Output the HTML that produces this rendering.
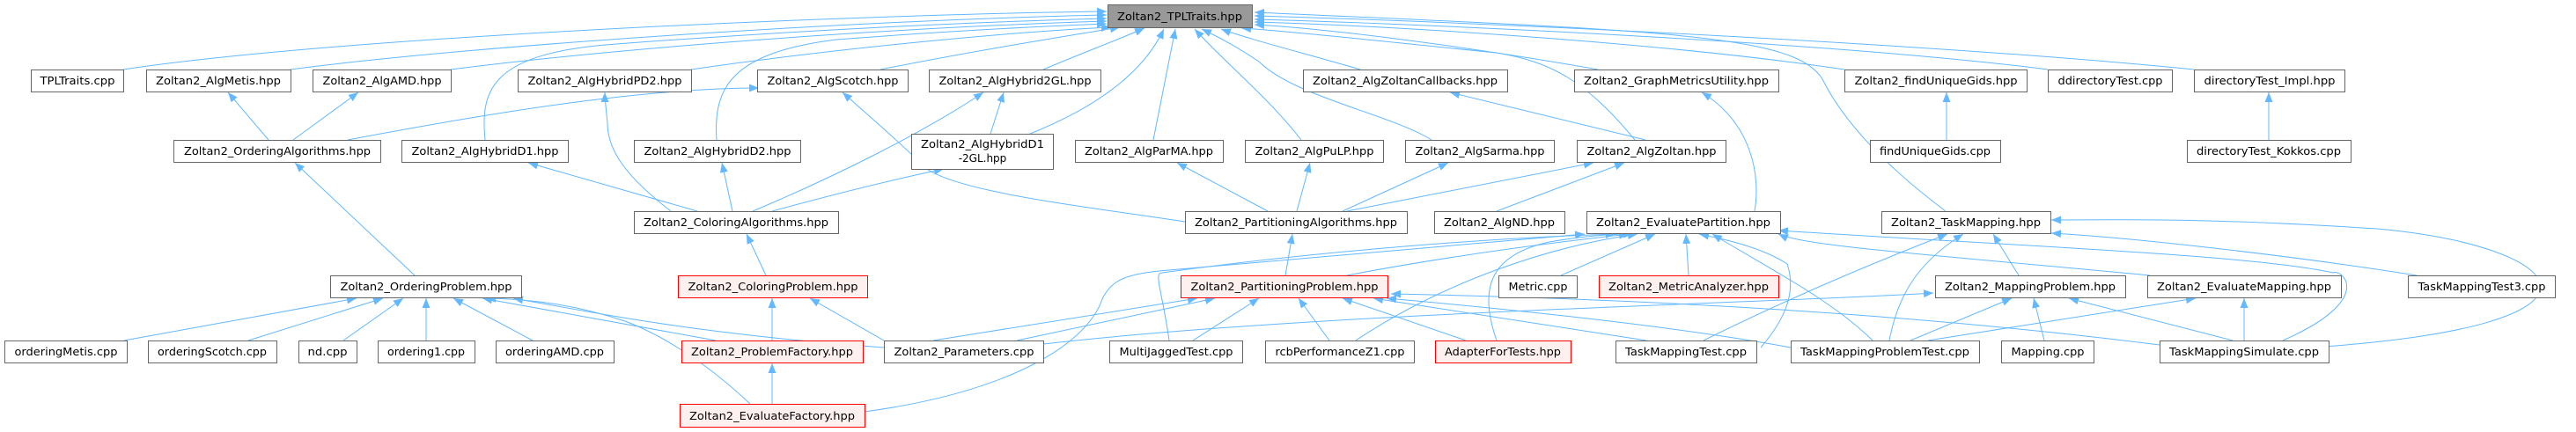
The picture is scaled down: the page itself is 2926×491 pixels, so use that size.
<!DOCTYPE html>
<html><head><meta charset="utf-8"><style>
html,body{margin:0;padding:0;background:#fff;width:2926px;height:491px;overflow:hidden}
svg{display:block}
text{font-family:"DejaVu Sans","Liberation Sans",sans-serif;font-size:12px;fill:#000;text-anchor:middle}
.n rect{fill:#fff;stroke:#666;stroke-width:1}
.r rect{fill:#fff0f0;stroke:#f00;stroke-width:1}
.g rect{fill:#999;stroke:#666;stroke-width:1}
path.e{fill:none;stroke:#63b8ff;stroke-width:1}
</style></head><body>
<svg width="2926" height="491" viewBox="0 0 2926 491" xmlns="http://www.w3.org/2000/svg">
<defs><marker id="a" markerWidth="11" markerHeight="9" refX="11" refY="4.5" orient="auto" markerUnits="userSpaceOnUse"><path d="M0,0 L11,4.5 L0,9 z" fill="#63b8ff"/></marker></defs>
<g marker-end="url(#a)">
<path class="e" d="M140,79 C400,40 1000,16 1257,13"/>
<path class="e" d="M330,79 C550,50 1000,22 1257,17"/>
<path class="e" d="M551,159 C545,100 560,60 700,50 C900,35 1100,25 1257,21"/>
<path class="e" d="M512,79 C700,55 1000,32 1257,24"/>
<path class="e" d="M814,159 C810,100 830,60 950,45 C1080,35 1180,30 1257,27"/>
<path class="e" d="M785,79 C950,55 1150,36 1262,31"/>
<path class="e" d="M1000,79 C1120,55 1230,38 1272,31"/>
<path class="e" d="M1185,79 C1230,60 1270,45 1300,32"/>
<path class="e" d="M1170,152 C1250,120 1300,80 1322,33"/>
<path class="e" d="M1310,159 C1320,110 1328,70 1335,33"/>
<path class="e" d="M1478,159 C1440,110 1390,70 1357,33"/>
<path class="e" d="M1626,159 C1580,130 1470,110 1430,70 C1400,50 1380,40 1365,33"/>
<path class="e" d="M1545,79 C1480,60 1420,45 1387,33"/>
<path class="e" d="M1857,159 C1800,90 1760,70 1700,60 C1550,45 1460,35 1410,32"/>
<path class="e" d="M1815,79 C1650,50 1500,32 1425,28"/>
<path class="e" d="M2095,79 C1900,50 1600,30 1425,25"/>
<path class="e" d="M2326,79 C2100,50 1650,28 1425,22"/>
<path class="e" d="M2492,79 C2200,50 1700,26 1425,18"/>
<path class="e" d="M2210,240 C2130,180 2090,130 2070,90 C2040,40 1900,35 1425,14"/>
<path class="e" d="M305,159 L259,105"/>
<path class="e" d="M333,159 L407,105"/>
<path class="e" d="M395,159 C600,120 750,100 862,100"/>
<path class="e" d="M2211,159 L2211,105"/>
<path class="e" d="M2577,159 L2577,105"/>
<path class="e" d="M1125,152 L1140,105"/>
<path class="e" d="M1993,240 C2000,200 1990,140 1933,105"/>
<path class="e" d="M1869,159 L1647,105"/>
<path class="e" d="M792,240 L600,185"/>
<path class="e" d="M762,240 C710,200 690,170 690,140 C688,120 687,112 687,105"/>
<path class="e" d="M832,240 L820,185"/>
<path class="e" d="M855,240 C950,200 1050,150 1117,105"/>
<path class="e" d="M877,240 C950,220 1010,205 1072,192"/>
<path class="e" d="M1346,252 C1200,230 1060,215 1040,180 C1020,160 985,130 957,105"/>
<path class="e" d="M1440,240 L1337,185"/>
<path class="e" d="M1473,240 L1488,185"/>
<path class="e" d="M1525,240 L1645,185"/>
<path class="e" d="M1530,240 L1810,185"/>
<path class="e" d="M1700,240 L1845,185"/>
<path class="e" d="M471,313 L335,185"/>
<path class="e" d="M141,387 L405,339"/>
<path class="e" d="M282,387 L435,339"/>
<path class="e" d="M390,387 L458,339"/>
<path class="e" d="M484,387 L484,339"/>
<path class="e" d="M605,387 L515,339"/>
<path class="e" d="M870,313 L848,266"/>
<path class="e" d="M877,387 L877,339"/>
<path class="e" d="M813,387 L548,339"/>
<path class="e" d="M877,459 L877,413"/>
<path class="e" d="M852,459 C800,410 750,380 710,365 C650,345 600,340 552,339"/>
<path class="e" d="M982,468 C1150,445 1235,390 1252,340 C1262,318 1280,312 1316,308 L1800,266"/>
<path class="e" d="M1460,313 L1468,266"/>
<path class="e" d="M1530,313 C1650,290 1770,275 1850,266"/>
<path class="e" d="M1004,395 C800,380 700,360 583,339"/>
<path class="e" d="M1004,387 L920,339"/>
<path class="e" d="M1155,387 L1380,339"/>
<path class="e" d="M1060,387 L1360,339"/>
<path class="e" d="M1185,391 C1500,355 2000,345 2196,333"/>
<path class="e" d="M1355,387 L1430,339"/>
<path class="e" d="M1328,387 C1320,330 1310,310 1320,310 C1500,285 1700,270 1835,266"/>
<path class="e" d="M1510,387 L1475,339"/>
<path class="e" d="M1540,387 C1640,320 1760,280 1860,266"/>
<path class="e" d="M1665,387 L1525,339"/>
<path class="e" d="M1700,387 C1680,330 1690,290 1760,275 C1800,268 1830,266 1855,266"/>
<path class="e" d="M1870,387 L1560,339"/>
<path class="e" d="M1935,387 C2050,330 2150,290 2212,266"/>
<path class="e" d="M1773,313 L1880,266"/>
<path class="e" d="M1918,313 L1915,266"/>
<path class="e" d="M2442,313 C2200,290 2050,280 2020,266"/>
<path class="e" d="M2127,387 C2080,340 2000,300 1945,266"/>
<path class="e" d="M2000,395 C2030,360 2040,330 2030,300 C2000,280 1950,270 1930,266"/>
<path class="e" d="M2293,313 L2264,266"/>
<path class="e" d="M2745,313 C2600,290 2420,270 2330,265"/>
<path class="e" d="M2146,387 C2155,340 2175,300 2230,266"/>
<path class="e" d="M2625,395 C3000,370 2920,280 2700,260 C2500,247 2400,250 2330,250"/>
<path class="e" d="M2170,387 L2285,339"/>
<path class="e" d="M2190,387 L2494,339"/>
<path class="e" d="M2322,387 L2310,339"/>
<path class="e" d="M2536,387 L2350,339"/>
<path class="e" d="M2549,387 L2549,339"/>
<path class="e" d="M2593,387 C2700,340 2660,305 2650,310 C2560,290 2300,280 2020,262"/>
<path class="e" d="M2453,392 C2200,360 1900,340 1580,334"/>
<path class="e" d="M2034,395 C1900,370 1700,350 1575,339"/>
</g>
<g class="g"><rect x="1258.5" y="5.5" width="164" height="26"/><text x="1340" y="23" textLength="142" lengthAdjust="spacingAndGlyphs">Zoltan2_TPLTraits.hpp</text></g>
<g class="n"><rect x="35.5" y="79.5" width="105" height="25"/><text x="88" y="96" textLength="85" lengthAdjust="spacingAndGlyphs">TPLTraits.cpp</text></g>
<g class="n"><rect x="166.5" y="79.5" width="164" height="25"/><text x="248" y="96" textLength="142" lengthAdjust="spacingAndGlyphs">Zoltan2_AlgMetis.hpp</text></g>
<g class="n"><rect x="355.5" y="79.5" width="157" height="25"/><text x="434" y="96" textLength="135" lengthAdjust="spacingAndGlyphs">Zoltan2_AlgAMD.hpp</text></g>
<g class="n"><rect x="588.5" y="79.5" width="197" height="25"/><text x="687" y="96" textLength="175" lengthAdjust="spacingAndGlyphs">Zoltan2_AlgHybridPD2.hpp</text></g>
<g class="n"><rect x="860.5" y="79.5" width="171" height="25"/><text x="946" y="96" textLength="149" lengthAdjust="spacingAndGlyphs">Zoltan2_AlgScotch.hpp</text></g>
<g class="n"><rect x="1055.5" y="79.5" width="195" height="25"/><text x="1153" y="96" textLength="173" lengthAdjust="spacingAndGlyphs">Zoltan2_AlgHybrid2GL.hpp</text></g>
<g class="n"><rect x="1480.5" y="79.5" width="232" height="25"/><text x="1596" y="96" textLength="210" lengthAdjust="spacingAndGlyphs">Zoltan2_AlgZoltanCallbacks.hpp</text></g>
<g class="n"><rect x="1788.5" y="79.5" width="232" height="25"/><text x="1904" y="96" textLength="210" lengthAdjust="spacingAndGlyphs">Zoltan2_GraphMetricsUtility.hpp</text></g>
<g class="n"><rect x="2095.5" y="79.5" width="207" height="25"/><text x="2199" y="96" textLength="185" lengthAdjust="spacingAndGlyphs">Zoltan2_findUniqueGids.hpp</text></g>
<g class="n"><rect x="2326.5" y="79.5" width="141" height="25"/><text x="2397" y="96" textLength="119" lengthAdjust="spacingAndGlyphs">ddirectoryTest.cpp</text></g>
<g class="n"><rect x="2492.5" y="79.5" width="171" height="25"/><text x="2578" y="96" textLength="149" lengthAdjust="spacingAndGlyphs">directoryTest_Impl.hpp</text></g>
<g class="n"><rect x="197.5" y="159.5" width="235" height="25"/><text x="315" y="176" textLength="212" lengthAdjust="spacingAndGlyphs">Zoltan2_OrderingAlgorithms.hpp</text></g>
<g class="n"><rect x="456.5" y="159.5" width="189" height="25"/><text x="551" y="176" textLength="167" lengthAdjust="spacingAndGlyphs">Zoltan2_AlgHybridD1.hpp</text></g>
<g class="n"><rect x="720.5" y="159.5" width="189" height="25"/><text x="815" y="176" textLength="167" lengthAdjust="spacingAndGlyphs">Zoltan2_AlgHybridD2.hpp</text></g>
<g class="n"><rect x="1035.5" y="152.5" width="161" height="40"/><text x="1116" y="168" textLength="140" lengthAdjust="spacingAndGlyphs">Zoltan2_AlgHybridD1</text><text x="1116" y="184">-2GL.hpp</text></g>
<g class="n"><rect x="1221.5" y="159.5" width="168" height="25"/><text x="1305" y="176" textLength="146" lengthAdjust="spacingAndGlyphs">Zoltan2_AlgParMA.hpp</text></g>
<g class="n"><rect x="1414.5" y="159.5" width="157" height="25"/><text x="1493" y="176" textLength="135" lengthAdjust="spacingAndGlyphs">Zoltan2_AlgPuLP.hpp</text></g>
<g class="n"><rect x="1596.5" y="159.5" width="169" height="25"/><text x="1681" y="176" textLength="147" lengthAdjust="spacingAndGlyphs">Zoltan2_AlgSarma.hpp</text></g>
<g class="n"><rect x="1791.5" y="159.5" width="169" height="25"/><text x="1876" y="176" textLength="147" lengthAdjust="spacingAndGlyphs">Zoltan2_AlgZoltan.hpp</text></g>
<g class="n"><rect x="2124.5" y="159.5" width="148" height="25"/><text x="2198" y="176" textLength="126" lengthAdjust="spacingAndGlyphs">findUniqueGids.cpp</text></g>
<g class="n"><rect x="2484.5" y="159.5" width="186" height="25"/><text x="2577" y="176" textLength="164" lengthAdjust="spacingAndGlyphs">directoryTest_Kokkos.cpp</text></g>
<g class="n"><rect x="720.5" y="240.5" width="232" height="25"/><text x="836" y="257" textLength="210" lengthAdjust="spacingAndGlyphs">Zoltan2_ColoringAlgorithms.hpp</text></g>
<g class="n"><rect x="1346.5" y="240.5" width="252" height="25"/><text x="1472" y="257" textLength="230" lengthAdjust="spacingAndGlyphs">Zoltan2_PartitioningAlgorithms.hpp</text></g>
<g class="n"><rect x="1629.5" y="240.5" width="148" height="25"/><text x="1703" y="257" textLength="126" lengthAdjust="spacingAndGlyphs">Zoltan2_AlgND.hpp</text></g>
<g class="n"><rect x="1802.5" y="240.5" width="220" height="25"/><text x="1912" y="257" textLength="198" lengthAdjust="spacingAndGlyphs">Zoltan2_EvaluatePartition.hpp</text></g>
<g class="n"><rect x="2137.5" y="240.5" width="192" height="25"/><text x="2233" y="257" textLength="170" lengthAdjust="spacingAndGlyphs">Zoltan2_TaskMapping.hpp</text></g>
<g class="n"><rect x="375.5" y="313.5" width="217" height="25"/><text x="484" y="330" textLength="195" lengthAdjust="spacingAndGlyphs">Zoltan2_OrderingProblem.hpp</text></g>
<g class="r"><rect x="770.5" y="313.5" width="215" height="25"/><text x="878" y="330" textLength="193" lengthAdjust="spacingAndGlyphs">Zoltan2_ColoringProblem.hpp</text></g>
<g class="r"><rect x="1341.5" y="313.5" width="235" height="25"/><text x="1459" y="330" textLength="213" lengthAdjust="spacingAndGlyphs">Zoltan2_PartitioningProblem.hpp</text></g>
<g class="n"><rect x="1702.5" y="313.5" width="89" height="25"/><text x="1747" y="330" textLength="67" lengthAdjust="spacingAndGlyphs">Metric.cpp</text></g>
<g class="r"><rect x="1816.5" y="313.5" width="204" height="25"/><text x="1918" y="330" textLength="182" lengthAdjust="spacingAndGlyphs">Zoltan2_MetricAnalyzer.hpp</text></g>
<g class="n"><rect x="2198.5" y="313.5" width="216" height="25"/><text x="2306" y="330" textLength="194" lengthAdjust="spacingAndGlyphs">Zoltan2_MappingProblem.hpp</text></g>
<g class="n"><rect x="2439.5" y="313.5" width="220" height="25"/><text x="2549" y="330" textLength="198" lengthAdjust="spacingAndGlyphs">Zoltan2_EvaluateMapping.hpp</text></g>
<g class="n"><rect x="2735.5" y="313.5" width="167" height="25"/><text x="2819" y="330" textLength="145" lengthAdjust="spacingAndGlyphs">TaskMappingTest3.cpp</text></g>
<g class="n"><rect x="5.5" y="387.5" width="139" height="25"/><text x="75" y="404" textLength="117" lengthAdjust="spacingAndGlyphs">orderingMetis.cpp</text></g>
<g class="n"><rect x="168.5" y="387.5" width="146" height="25"/><text x="241" y="404" textLength="124" lengthAdjust="spacingAndGlyphs">orderingScotch.cpp</text></g>
<g class="n"><rect x="339.5" y="387.5" width="66" height="25"/><text x="372" y="404" textLength="45" lengthAdjust="spacingAndGlyphs">nd.cpp</text></g>
<g class="n"><rect x="429.5" y="387.5" width="110" height="25"/><text x="484" y="404" textLength="88" lengthAdjust="spacingAndGlyphs">ordering1.cpp</text></g>
<g class="n"><rect x="563.5" y="387.5" width="134" height="25"/><text x="630" y="404" textLength="112" lengthAdjust="spacingAndGlyphs">orderingAMD.cpp</text></g>
<g class="r"><rect x="774.5" y="387.5" width="206" height="25"/><text x="877" y="404" textLength="184" lengthAdjust="spacingAndGlyphs">Zoltan2_ProblemFactory.hpp</text></g>
<g class="n"><rect x="1004.5" y="387.5" width="181" height="25"/><text x="1095" y="404" textLength="159" lengthAdjust="spacingAndGlyphs">Zoltan2_Parameters.cpp</text></g>
<g class="n"><rect x="1260.5" y="387.5" width="151" height="25"/><text x="1336" y="404" textLength="129" lengthAdjust="spacingAndGlyphs">MultiJaggedTest.cpp</text></g>
<g class="n"><rect x="1437.5" y="387.5" width="169" height="25"/><text x="1522" y="404" textLength="147" lengthAdjust="spacingAndGlyphs">rcbPerformanceZ1.cpp</text></g>
<g class="r"><rect x="1630.5" y="387.5" width="154" height="25"/><text x="1707" y="404" textLength="132" lengthAdjust="spacingAndGlyphs">AdapterForTests.hpp</text></g>
<g class="n"><rect x="1835.5" y="387.5" width="160" height="25"/><text x="1915" y="404" textLength="138" lengthAdjust="spacingAndGlyphs">TaskMappingTest.cpp</text></g>
<g class="n"><rect x="2034.5" y="387.5" width="214" height="25"/><text x="2141" y="404" textLength="192" lengthAdjust="spacingAndGlyphs">TaskMappingProblemTest.cpp</text></g>
<g class="n"><rect x="2273.5" y="387.5" width="105" height="25"/><text x="2326" y="404" textLength="83" lengthAdjust="spacingAndGlyphs">Mapping.cpp</text></g>
<g class="n"><rect x="2453.5" y="387.5" width="192" height="25"/><text x="2549" y="404" textLength="170" lengthAdjust="spacingAndGlyphs">TaskMappingSimulate.cpp</text></g>
<g class="r"><rect x="772.5" y="459.5" width="210" height="26"/><text x="877" y="477" textLength="188" lengthAdjust="spacingAndGlyphs">Zoltan2_EvaluateFactory.hpp</text></g>
</svg>
</body></html>
